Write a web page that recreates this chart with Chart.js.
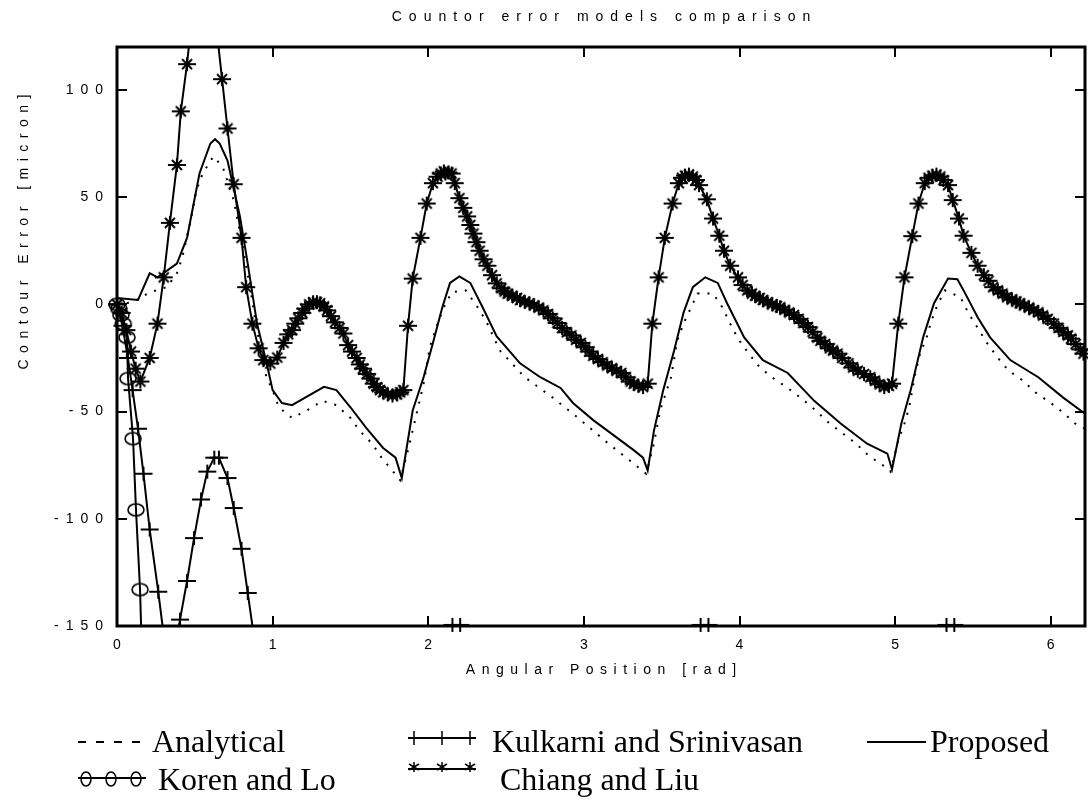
<!DOCTYPE html>
<html>
<head>
<meta charset="utf-8">
<script src="https://cdn.jsdelivr.net/npm/chart.js@4/dist/chart.umd.min.js"></script>
<style>
html,body{margin:0;padding:0;background:#fff;}
#c{display:block;}
</style>
</head>
<body>
<canvas id="c" width="1088" height="810"></canvas>
<script>
// ---------------- DATA ----------------
const titleText = "Countor error models comparison";
const xTitle = "Angular Position [rad]";
const yTitle = "Contour Error [micron]";
const xTicks = [0, 1, 2, 3, 4, 5, 6];
const yTicks = [-150, -100, -50, 0, 50, 100];
const xRange = [0, 6.22];
const yRange = [-150, 120];

const seriesNames = ["Analytical", "Koren and Lo", "Kulkarni and Srinivasan", "Chiang and Liu", "Proposed"];

const analyticalX = [0,0.1,0.21,0.32,0.385,0.42,0.47,0.51,0.55,0.62,0.68,0.75,0.8,0.85,0.9,0.96,1.0,1.04,1.125,1.22,1.32,1.41,1.5,1.56,1.64,1.7,1.78,1.82,1.88,1.93,1.97,2.01,2.06,2.1,2.15,2.24,2.31,2.37,2.46,2.62,2.8,2.98,3.15,3.32,3.4,3.45,3.49,3.56,3.6,3.64,3.73,3.83,3.89,3.94,3.99,4.06,4.13,4.22,4.31,4.4,4.49,4.57,4.66,4.75,4.83,4.92,4.97,5.02,5.06,5.09,5.13,5.16,5.2,5.23,5.27,5.32,5.42,5.47,5.53,5.59,5.66,5.73,5.82,5.9,6.0,6.08,6.17,6.22];
const analyticalY = [0,1,5.6,8,14.5,22,38,53,61,69,64,48.6,30,10,-12,-34,-40,-48,-53,-49.5,-45,-47,-53,-59,-65,-71.5,-78.5,-82,-65,-49.5,-37,-20,-9,-1.4,5.6,6.5,-0.5,-7.5,-21.5,-34,-43.5,-54,-64.5,-74.3,-79,-65,-49.5,-34,-17,-9,5,5,-1.4,-9,-16,-23,-29.4,-34.6,-39,-44,-49.5,-55,-60,-65,-70.6,-75,-78,-63.5,-55.6,-48,-32,-23,-16,-8.4,-0.5,6.5,3.3,-4,-11,-18,-25,-31,-35.5,-41,-46,-50.5,-56.5,-58];

const korenX = [0,0.012,0.025,0.04,0.064,0.071,0.103,0.122,0.148,0.165,0.2];
const korenY = [0,-2,-5,-9,-15.4,-34.6,-62.6,-95.8,-133,-175,-230];

const kulkarniX = [0,0.035,0.07,0.1,0.135,0.17,0.21,0.265,0.31,0.36,0.405,0.45,0.495,0.54,0.58,0.625,0.655,0.71,0.75,0.8,0.84,0.89,1.0,1.5,2.1,2.155,2.205,2.26,2.8,3.7,3.75,3.8,3.85,4.5,5.28,5.33,5.38,5.43,6.22];
const kulkarniY = [0,-10,-25,-40,-58,-79,-105,-134,-160,-165,-147,-129,-109,-91,-78,-71.5,-71.5,-81,-95,-114,-134.6,-160,-200,-260,-170,-149.5,-149.5,-170,-260,-170,-149.5,-149.5,-170,-260,-170,-149.5,-149.5,-170,-250];

const chiangX = [0,0.03,0.06,0.09,0.12,0.15,0.21,0.26,0.3,0.34,0.385,0.41,0.45,0.49,0.53,0.57,0.61,0.645,0.675,0.71,0.75,0.8,0.83,0.87,0.91,0.94,0.985,1.03,1.07,1.1,1.125,1.145,1.165,1.19,1.21,1.235,1.26,1.285,1.305,1.33,1.35,1.375,1.4,1.43,1.455,1.485,1.51,1.54,1.56,1.58,1.605,1.63,1.65,1.67,1.69,1.71,1.74,1.77,1.8,1.82,1.84,1.87,1.9,1.95,1.99,2.03,2.06,2.08,2.1,2.11,2.13,2.15,2.17,2.2,2.225,2.25,2.27,2.29,2.31,2.33,2.355,2.38,2.41,2.44,2.47,2.49,2.51,2.54,2.57,2.59,2.62,2.65,2.68,2.71,2.74,2.77,2.8,2.83,2.86,2.89,2.92,2.95,2.98,3.01,3.035,3.06,3.09,3.12,3.15,3.18,3.21,3.24,3.27,3.3,3.32,3.35,3.38,3.41,3.44,3.48,3.52,3.57,3.61,3.63,3.65,3.675,3.7,3.72,3.74,3.79,3.83,3.87,3.9,3.94,3.99,4.02,4.05,4.08,4.1,4.13,4.15,4.18,4.21,4.24,4.26,4.29,4.32,4.35,4.38,4.41,4.44,4.47,4.5,4.52,4.55,4.58,4.6,4.63,4.66,4.7,4.73,4.76,4.8,4.84,4.87,4.9,4.93,4.96,4.98,5.02,5.06,5.11,5.15,5.19,5.215,5.24,5.265,5.29,5.31,5.34,5.37,5.41,5.44,5.49,5.53,5.57,5.6,5.63,5.66,5.69,5.72,5.75,5.78,5.8,5.83,5.86,5.89,5.92,5.95,5.98,6.02,6.05,6.08,6.11,6.13,6.16,6.19,6.21,6.24];
const chiangY = [0,-4,-12,-22,-30,-36,-25,-9,12.6,38,65,90,112,140,158,162,145,125,105,82,56,31,8,-9,-20.5,-26,-27.6,-24.8,-18,-14,-12,-9,-6.5,-4,-2,0,1,1,0.5,-1,-2.8,-5.5,-8.4,-11,-13.6,-19,-22,-25,-28,-30,-32.5,-34.6,-37,-38.6,-40,-41,-42,-42.5,-42,-41,-40,-10,12,31,47,56.5,59.5,61,62,61,61.5,61,56.5,49.5,45,41,37,33,29,25,21,18,13.6,9.8,7.5,6,5,4,3,2,1.2,0.5,-0.5,-1.5,-2.8,-4.5,-6.5,-8.7,-11,-13,-14.5,-16.5,-18,-20,-22,-24,-25.5,-27,-28.5,-29.8,-31,-32,-34,-36,-37,-38,-38.6,-37,-9,12.6,31,47,56.5,59,60,60.5,59.6,58,55.6,49,40,32,25,18,12.6,9,6.5,5,4,3,2,1,0,-0.8,-1.4,-2.5,-3.8,-5,-6.8,-8.7,-10.6,-12.8,-15.5,-17,-18.5,-20.5,-21.5,-23,-25,-27.5,-29.4,-31,-32.5,-34,-35.6,-37.3,-38.6,-38,-37,-9,12.6,31.8,47,56.5,59,60,60.5,59.6,58,55.6,48.6,40,32,24,18,13.6,11,8,6.5,5,3.3,2.3,1.3,0.5,-0.5,-1.5,-2.7,-3.7,-5.2,-6.8,-9,-11,-12.8,-14.5,-16,-18.5,-21,-23,-25];

const proposedX = [0,0.135,0.21,0.26,0.385,0.45,0.53,0.6,0.63,0.66,0.71,0.79,0.84,0.9,0.96,1.0,1.06,1.125,1.22,1.33,1.41,1.5,1.6,1.71,1.79,1.83,1.9,1.97,2.03,2.09,2.14,2.2,2.27,2.35,2.44,2.59,2.72,2.85,2.93,3.06,3.19,3.32,3.38,3.41,3.45,3.51,3.58,3.64,3.7,3.78,3.86,3.92,4.03,4.15,4.31,4.48,4.65,4.82,4.95,4.98,5.04,5.1,5.18,5.25,5.34,5.4,5.44,5.53,5.61,5.74,5.92,6.08,6.22];
const proposedY = [3,2,14.5,12.6,19,31,61,75,77,75,67,41,19,-9,-27,-40,-46,-47,-43,-38.5,-40,-48,-57.5,-67,-71.5,-81,-49.5,-34,-18,-1.5,10,13,10,-1.5,-15,-27.5,-34,-39,-46,-54,-61,-68,-71.5,-77.5,-59,-40,-21.5,-4,8,12.6,10,0.5,-15.4,-26,-32,-45,-55.6,-65,-69.6,-77,-55.6,-40,-15.4,0.5,12,11.7,6.5,-6,-15.4,-26,-34,-43.5,-51];

// ---------------- HELPERS ----------------
function pts(xs, ys){ return xs.map((x,i)=>({x:x, y:ys[i]})); }
function inRange(p){ return p.y >= yRange[0]-1 && p.y <= yRange[1] && p.x >= xRange[0] && p.x <= xRange[1]; }

function makeMarker(kind){
  const c = document.createElement('canvas');
  c.width = 22; c.height = 18;
  const g = c.getContext('2d');
  g.strokeStyle = '#000'; g.lineWidth = 2; g.lineCap = 'butt';
  g.beginPath();
  if (kind === 'plus' || kind === 'star'){
    g.moveTo(2,9); g.lineTo(20,9);
    g.moveTo(11,2); g.lineTo(11,16);
  }
  if (kind === 'star'){
    g.moveTo(6,4); g.lineTo(16,14);
    g.moveTo(16,4); g.lineTo(6,14);
  }
  if (kind === 'ellipse'){
    g.lineWidth = 1.6;
    g.ellipse(11,9,8,6,0,0,Math.PI*2);
  }
  g.stroke();
  return c;
}
function makeLegendMarker(kind){
  const c = document.createElement('canvas');
  c.width = 14; c.height = 16;
  const g = c.getContext('2d');
  g.strokeStyle = '#000'; g.lineWidth = 1.5;
  g.beginPath();
  if (kind === 'plus'){ g.moveTo(1,8); g.lineTo(13,8); g.moveTo(7,1); g.lineTo(7,15); }
  if (kind === 'star'){ g.moveTo(7,2); g.lineTo(7,12); g.moveTo(2,4); g.lineTo(12,10); g.moveTo(12,4); g.lineTo(2,10); }
  if (kind === 'ellipse'){ g.ellipse(7,8,5,7,0,0,Math.PI*2); }
  g.stroke();
  return c;
}
const plusImg = makeMarker('plus');
const starImg = makeMarker('star');
const ellImg = makeMarker('ellipse');
const lgPlus = makeLegendMarker('plus');
const lgStar = makeLegendMarker('star');
const lgEll = makeLegendMarker('ellipse');

function lineDS(data, extra){
  return Object.assign({data:data, borderColor:'#000', borderWidth:2, pointRadius:0, fill:false, tension:0, clip:0}, extra||{});
}
function markDS(data, img){
  return {data:data.filter(inRange), showLine:false, pointStyle:img, pointRadius:9, borderColor:'#000', backgroundColor:'#000', clip:false};
}

const dAnal = pts(analyticalX, analyticalY);
const dKor = pts(korenX, korenY);
const dKul = pts(kulkarniX, kulkarniY);
const dChi = pts(chiangX, chiangY);
const dPro = pts(proposedX, proposedY);

const SANS = '"Liberation Sans", Arial, sans-serif';
const SERIF = '"Liberation Serif", "Times New Roman", serif';

function spacedText(ctx, text, x, y, align, spacing){
  ctx.save();
  try { ctx.letterSpacing = spacing + 'px'; } catch(e) {}
  ctx.textAlign = align;
  let dx = 0;
  if (align === 'center') dx = spacing/2;
  if (align === 'right') dx = spacing;
  ctx.fillText(text, x + dx, y);
  ctx.restore();
}

const decor = {
  id: 'decor',
  afterDraw(chart){
    const ctx = chart.ctx;
    const a = chart.chartArea;
    const xs = chart.scales.x, ys = chart.scales.y;
    ctx.save();
    ctx.strokeStyle = '#000';
    ctx.fillStyle = '#000';
    // inward ticks
    ctx.lineWidth = 2;
    ctx.beginPath();
    xTicks.forEach(v => {
      const px = Math.round(xs.getPixelForValue(v));
      ctx.moveTo(px, a.bottom); ctx.lineTo(px, a.bottom - 10);
      ctx.moveTo(px, a.top); ctx.lineTo(px, a.top + 10);
    });
    yTicks.forEach(v => {
      const py = Math.round(ys.getPixelForValue(v));
      ctx.moveTo(a.left, py); ctx.lineTo(a.left + 10, py);
      ctx.moveTo(a.right, py); ctx.lineTo(a.right - 10, py);
    });
    ctx.stroke();
    // frame
    ctx.lineWidth = 3;
    ctx.strokeRect(a.left, a.top, a.right - a.left, a.bottom - a.top);

    // tick labels
    ctx.font = '14px ' + SANS;
    ctx.textBaseline = 'middle';
    xTicks.forEach(v => {
      spacedText(ctx, String(v), xs.getPixelForValue(v), a.bottom + 19, 'center', 0);
    });
    yTicks.forEach(v => {
      spacedText(ctx, String(v), a.left - 14, ys.getPixelForValue(v), 'right', 7);
    });
    // titles
    ctx.font = '14px ' + SANS;
    spacedText(ctx, titleText, (a.left + a.right)/2, 17, 'center', 7);
    spacedText(ctx, xTitle, (a.left + a.right)/2, 670, 'center', 6.5);
    ctx.save();
    ctx.translate(24, 232);
    ctx.rotate(-Math.PI/2);
    spacedText(ctx, yTitle, 0, 0, 'center', 6.5);
    ctx.restore();

    // legend
    ctx.font = '32px ' + SERIF;
    ctx.textBaseline = 'alphabetic';
    ctx.textAlign = 'left';
    const r1 = 752, r2 = 790;
    ctx.lineWidth = 2;
    // Analytical
    ctx.beginPath();
    for (let i = 0; i < 4; i++){ ctx.moveTo(78 + i*18, 742); ctx.lineTo(86 + i*18, 742); }
    ctx.stroke();
    ctx.fillText(seriesNames[0], 152, r1);
    // Kulkarni
    ctx.beginPath(); ctx.moveTo(408, 738); ctx.lineTo(476, 738); ctx.stroke();
    [414, 442, 470].forEach(px => ctx.drawImage(lgPlus, px - 7, 738 - 8));
    ctx.fillText(seriesNames[2], 492, r1);
    // Proposed
    ctx.beginPath(); ctx.moveTo(867, 742); ctx.lineTo(926, 742); ctx.stroke();
    ctx.fillText(seriesNames[4], 930, r1);
    // Koren
    ctx.beginPath(); ctx.moveTo(78, 778); ctx.lineTo(146, 778); ctx.stroke();
    [86, 111, 136].forEach(px => ctx.drawImage(lgEll, px - 7, 779 - 8));
    ctx.fillText(seriesNames[1], 158, r2);
    // Chiang
    ctx.beginPath(); ctx.moveTo(408, 769); ctx.lineTo(476, 769); ctx.stroke();
    [414, 442, 470].forEach(px => ctx.drawImage(lgStar, px - 7, 768 - 8));
    ctx.fillText(seriesNames[3], 500, r2);
    ctx.restore();
  }
};

new Chart(document.getElementById('c'), {
  type: 'line',
  data: {
    datasets: [
      lineDS(dAnal, {borderDash:[2,8], borderWidth:2}),
      lineDS(dPro),
      lineDS(dChi),
      lineDS(dKul),
      lineDS(dKor),
      markDS(dChi, starImg),
      markDS(dKul, plusImg),
      markDS(dKor, ellImg)
    ]
  },
  options: {
    responsive: false,
    animation: false,
    devicePixelRatio: 1,
    layout: { autoPadding: false, padding: { top: 47, right: 3, left: 0, bottom: 0 } },
    plugins: { legend: {display:false}, tooltip: {enabled:false}, title: {display:false} },
    events: [],
    scales: {
      x: { type:'linear', min:xRange[0], max:xRange[1], grid:{display:false}, border:{display:false}, ticks:{display:false},
           afterFit(s){ s.height = 184; s.paddingLeft = 0; s.paddingRight = 0; } },
      y: { type:'linear', min:yRange[0], max:yRange[1], grid:{display:false}, border:{display:false}, ticks:{display:false},
           afterFit(s){ s.width = 117; s.paddingTop = 0; s.paddingBottom = 0; } }
    }
  },
  plugins: [decor]
});
</script>
</body>
</html>
